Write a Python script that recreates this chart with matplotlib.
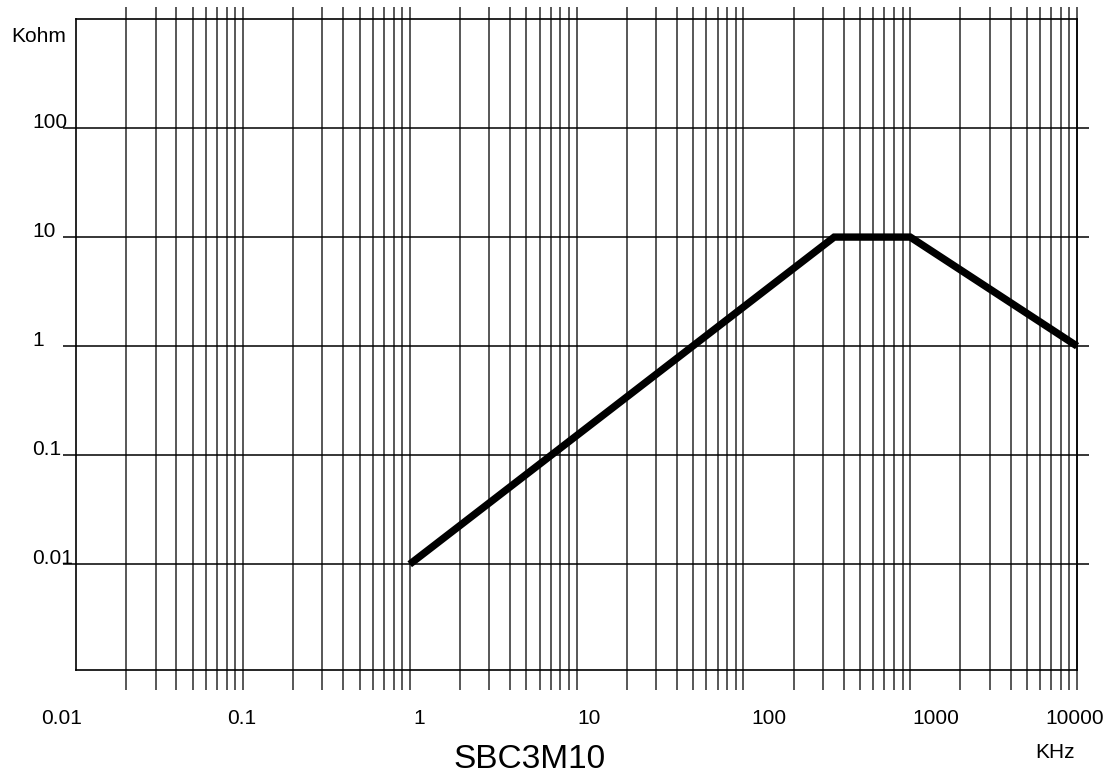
import numpy as np
import matplotlib.pyplot as plt
from matplotlib.transforms import ScaledTranslation

plt.rcParams['font.family'] = ['Liberation Sans', 'DejaVu Sans']

# impedance curve (KHz -> Kohm)
freq_khz = [1, 350, 1000, 10000]
imp_kohm = [0.01, 10, 10, 1]

x_ticks = [0.01, 0.1, 1, 10, 100, 1000, 10000]
x_labels = ['0.01', '0.1', '1', '10', '100', '1000', '10000']
y_ticks = [0.01, 0.1, 1, 10, 100]
y_labels = ['0.01', '0.1', '1', '10', '100']
part_name = 'SBC3M10'

# the original labels sit a bit off their decade line (pixels)
x_label_shift = [-14, -1, 9, 12, 26, 26, -2]

fig = plt.figure(figsize=(11.15, 7.81), dpi=100)
ax = fig.add_axes([0.0682, 0.1421, 0.8978, 0.8336])
ax.set_xscale('log')
ax.set_yscale('log')
ax.set_xlim(0.01, 10000)
ax.set_ylim(10 ** -2.97, 1000)

# vertical grid: every 1..9 step per decade, sticking out top and bottom
vx = []
for d in x_ticks[:-1]:
    for m in range(2, 11):
        vx.append(d * m)
ax.vlines(vx, -0.03, 1.018, transform=ax.get_xaxis_transform(),
          colors='#2a2a2a', linewidth=1.1, clip_on=False, zorder=1)

# horizontal grid at the decades
ax.hlines(y_ticks, -0.013, 1.012, transform=ax.get_yaxis_transform(),
          colors='black', linewidth=1.1, clip_on=False, zorder=1)

ax.plot(freq_khz, imp_kohm, color='black', linewidth=5.3,
        solid_capstyle='butt', solid_joinstyle='miter', clip_on=False, zorder=3)

for s in ax.spines.values():
    s.set_linewidth(1.2)
    s.set_color('black')

ax.set_xticks(x_ticks)
ax.set_xticklabels([])
ax.set_xticks([], minor=True)
ax.set_yticks(y_ticks)
ax.set_yticklabels(y_labels)
ax.set_yticks([], minor=True)
ax.tick_params(axis='both', length=0, labelsize=15)
ax.tick_params(axis='y', pad=31.5)
for t in ax.get_yticklabels():
    t.set_horizontalalignment('left')
    t.set_verticalalignment('baseline')

for xv, lab, dx in zip(x_ticks, x_labels, x_label_shift):
    tr = ax.get_xaxis_transform() + ScaledTranslation(dx / 100, 0, fig.dpi_scale_trans)
    ax.text(xv, -0.074, lab, transform=tr, fontsize=15, ha='center', va='center')

fig.text(11 / 1115, 1 - 37 / 781, 'Kohm', fontsize=15, ha='left', va='center')
fig.text(1055 / 1115, 1 - 752 / 781, 'KHz', fontsize=15, ha='center', va='center')
fig.text(530 / 1115, 1 - 760 / 781, part_name, fontsize=24, ha='center', va='center')

fig.savefig('out.png', dpi=100)
